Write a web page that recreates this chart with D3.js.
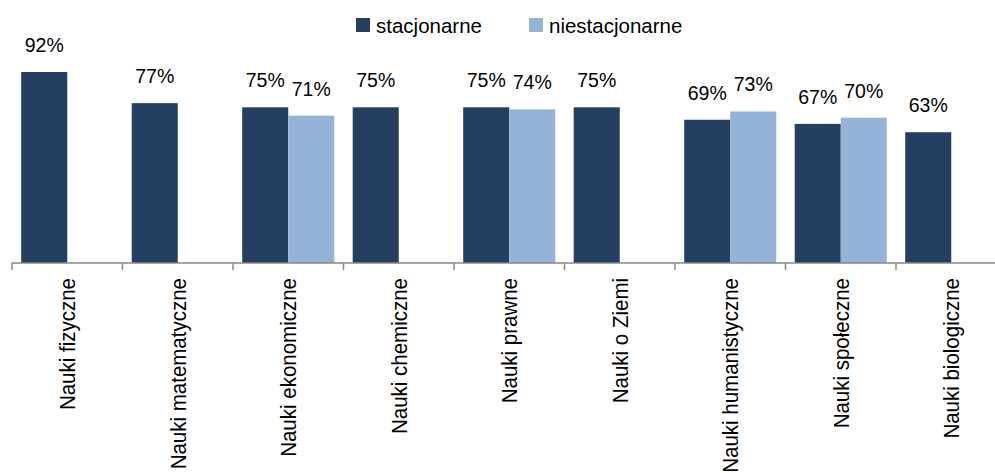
<!DOCTYPE html>
<html>
<head>
<meta charset="utf-8">
<script src="https://cdn.jsdelivr.net/npm/d3@7"></script>
<style>
  body { margin: 0; background: #fff; }
  text { font-family: "Liberation Sans", Arial, sans-serif; fill: #000; }
</style>
</head>
<body>
<div id="graph"></div>
<script>
// Categories and series
const categories = [
  "Nauki fizyczne",
  "Nauki matematyczne",
  "Nauki ekonomiczne",
  "Nauki chemiczne",
  "Nauki prawne",
  "Nauki o Ziemi",
  "Nauki humanistyczne",
  "Nauki społeczne",
  "Nauki biologiczne"
];
const seriesNames = ["stacjonarne", "niestacjonarne"];
const stacjonarne = [0.92, 0.77, 0.75, 0.75, 0.75, 0.75, 0.69, 0.67, 0.63];
const niestacjonarne = [null, null, 0.71, null, 0.74, null, 0.73, 0.70, null];

const colors = { stacjonarne: "#253f60", niestacjonarne: "#95b3d7" };

const width = 995;
const height = 473;

const svg = d3.select("#graph")
  .append("svg")
  .attr("width", width)
  .attr("height", height);

// Scales
const x = d3.scaleBand()
  .domain(categories)
  .range([12, 12 + categories.length * 110.5])
  .padding(0);

const x1 = d3.scaleBand()
  .domain(seriesNames)
  .range([0, x.bandwidth()])
  .paddingInner(0)
  .paddingOuter(0.2);

const y = d3.scaleLinear()
  .domain([0, 1])
  .range([263, 55.4]);

// Flatten the data
const rows = [];
categories.forEach((c, i) => {
  rows.push({ cat: c, key: "stacjonarne", value: stacjonarne[i] });
  if (niestacjonarne[i] != null) rows.push({ cat: c, key: "niestacjonarne", value: niestacjonarne[i] });
});

// Bars
svg.selectAll(".bar")
  .data(rows)
  .join("rect")
  .attr("class", "bar")
  .attr("x", d => x(d.cat) + x1(d.key))
  .attr("y", d => y(d.value))
  .attr("width", x1.bandwidth())
  .attr("height", d => y(0) - y(d.value))
  .attr("fill", d => colors[d.key]);

// Value labels
svg.selectAll(".val")
  .data(rows)
  .join("text")
  .attr("class", "val")
  .attr("x", d => x(d.cat) + x1(d.key) + x1.bandwidth() / 2)
  .attr("y", d => y(d.value) - 20)
  .attr("text-anchor", "middle")
  .style("font-size", "19.5px")
  .text(d => d3.format(".0%")(d.value));

// Category axis: line with ticks on band boundaries
const bounds = categories.map(c => x(c)).concat([x.range()[1]]);
svg.append("line")
  .attr("x1", x.range()[0])
  .attr("x2", x.range()[1])
  .attr("y1", y(0))
  .attr("y2", y(0))
  .attr("stroke", "#888")
  .attr("stroke-width", 1.5);

svg.selectAll(".tick")
  .data(bounds)
  .join("line")
  .attr("class", "tick")
  .attr("x1", d => d)
  .attr("x2", d => d)
  .attr("y1", y(0))
  .attr("y2", y(0) + 7)
  .attr("stroke", "#888")
  .attr("stroke-width", 1.5);

svg.selectAll(".cat")
  .data(categories)
  .join("text")
  .attr("class", "cat")
  .attr("transform", d => `translate(${x(d) + x.bandwidth() / 2}, 278) rotate(-90) scale(1, 1.08)`)
  .attr("dy", "0.35em")
  .attr("text-anchor", "end")
  .style("font-size", "20.5px")
  .text(d => d);

// Legend
const legendPos = [356, 529];
const legend = svg.selectAll(".legend-key")
  .data(seriesNames)
  .join("g")
  .attr("class", "legend-key")
  .attr("transform", (d, i) => `translate(${legendPos[i]}, 18)`);

legend.append("rect")
  .attr("width", 14)
  .attr("height", 14)
  .attr("fill", d => colors[d]);

legend.append("text")
  .attr("x", 20)
  .attr("y", 15)
  .style("font-size", "20.5px")
  .text(d => d);
</script>
</body>
</html>
